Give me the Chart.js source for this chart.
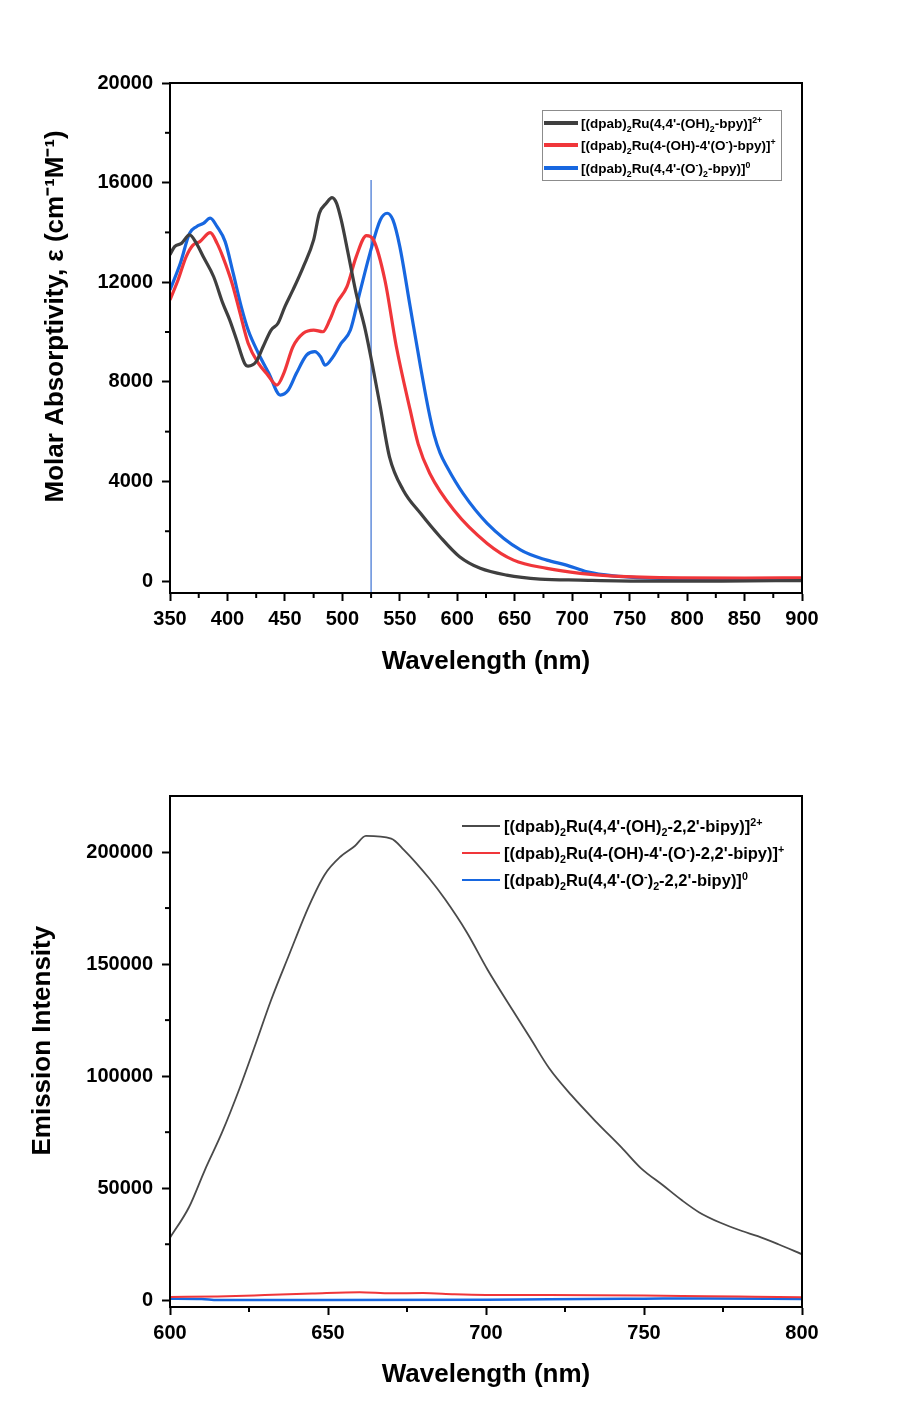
<!DOCTYPE html>
<html lang="en">
<head>
<meta charset="UTF-8">
<title>Absorption and emission spectra</title>
<script src="https://cdn.jsdelivr.net/npm/chart.js"></script>
<style>
  body { margin: 0; background: #fff; }
  .wrap { position: relative; width: 917px; height: 1418px; overflow: hidden; }
  canvas { position: absolute; left: 0; }
  #absChart { top: 0; }
  #emChart { top: 710px; }
  .legend { position: absolute; font-family: "Liberation Sans", Arial, sans-serif; font-weight: bold; color: #000; }
  .legend .row { position: absolute; left: 0; height: 20px; display: flex; align-items: center; white-space: nowrap; }
  .legend sub, .legend sup { font-size: 65%; line-height: 0; }
  #absLegend { left: 542px; top: 110px; width: 238px; height: 69px; border: 1px solid #8c8c8c; }
  #emLegend { left: 462px; top: 812px; width: 340px; height: 80px; }
</style>
</head>
<body>
<div class="wrap">
  <canvas id="absChart" width="917" height="700"></canvas>
  <canvas id="emChart" width="917" height="708"></canvas>
  <div id="absLegend" class="legend"></div>
  <div id="emLegend" class="legend"></div>
</div>

<script>
// --- absorption spectra (nm, M-1 cm-1) ---
const absWlBlack = [350, 354, 360, 367, 373, 379, 388, 396, 402, 408, 415, 418, 425, 431, 438, 444, 450, 457, 466, 475, 480, 486, 491, 495, 499, 505, 512, 520, 527, 533, 541, 553, 568, 585, 602, 620, 643, 672, 707, 765, 830, 900];
const absBlack   = [13100, 13430, 13560, 13900, 13560, 13020, 12220, 11150, 10480, 9680, 8740, 8630, 8810, 9410, 10080, 10350, 11020, 11690, 12620, 13700, 14770, 15170, 15400, 15170, 14500, 13160, 11550, 10080, 8470, 7000, 4990, 3650, 2720, 1780, 976, 510, 240, 80, 40, 0, 0, 20];

const absWlRed = [350, 357, 364, 370, 376, 385, 391, 396, 404, 411, 418, 427, 434, 443, 449, 457, 466, 475, 483, 489, 495, 504, 512, 521, 527, 537, 547, 559, 566, 576, 597, 626, 649, 678, 707, 736, 794, 850, 900];
const absRed   = [11290, 12090, 13020, 13490, 13630, 13990, 13560, 13020, 11960, 10750, 9550, 8740, 8340, 7870, 8340, 9410, 9950, 10080, 10010, 10480, 11150, 11820, 13020, 13870, 13700, 12090, 9410, 6870, 5500, 4330, 2850, 1510, 840, 510, 310, 200, 130, 120, 130];

const absWlBlue = [350, 359, 367, 373, 379, 385, 391, 398, 405, 412, 418, 427, 436, 446, 453, 460, 469, 476, 481, 485, 492, 499, 507, 515, 524, 533, 539, 544, 550, 559, 568, 575, 580, 585, 591, 605, 626, 655, 678, 695, 713, 736, 794, 850, 900];
const absBlue   = [11690, 12760, 13960, 14230, 14360, 14570, 14230, 13630, 12360, 11020, 10080, 9140, 8340, 7470, 7670, 8340, 9080, 9210, 9010, 8670, 9010, 9550, 10080, 11550, 13160, 14500, 14770, 14500, 13430, 11020, 8610, 6870, 5850, 5150, 4590, 3520, 2320, 1250, 840, 640, 370, 210, 80, 40, 60];

// vertical marker line at 525 nm
const markerWl  = [525, 525];
const markerEps = [16100, -480];

const absTicksY = [0, 4000, 8000, 12000, 16000, 20000];

const absLabels = [
  "[(dpab)<sub>2</sub>Ru(4,4'-(OH)<sub>2</sub>-bpy)]<sup>2+</sup>",
  "[(dpab)<sub>2</sub>Ru(4-(OH)-4'(O<sup>-</sup>)-bpy)]<sup>+</sup>",
  "[(dpab)<sub>2</sub>Ru(4,4'-(O<sup>-</sup>)<sub>2</sub>-bpy)]<sup>0</sup>"
];

// --- emission spectra ---
const emWlBlack = [600, 606, 611, 616.5, 622, 627, 632, 637.5, 644, 649, 654, 658.5, 662, 670, 674, 682, 687, 694, 700.5, 708.5, 714, 720, 727, 735, 743, 749, 756, 762, 767.5, 774, 781, 786, 792.5, 800];
const emBlack   = [27900, 41500, 58000, 75000, 94500, 114000, 134000, 153500, 176000, 190000, 198000, 202700, 207200, 206000, 201000, 188300, 179000, 164000, 147500, 129300, 117000, 103500, 91500, 79400, 68000, 59000, 51300, 44600, 39200, 34700, 30900, 28600, 25000, 20500];

const emWlRed = [600, 615, 630, 645, 660, 670, 680, 690, 700, 720, 750, 770, 785, 800];
const emRed   = [1500, 1700, 2300, 3000, 3600, 3100, 3200, 2700, 2400, 2300, 2100, 1800, 1600, 1400];

const emWlBlue = [600, 610, 615, 650, 700, 720, 750, 770, 800];
const emBlue   = [700, 600, 100, 100, 200, 500, 700, 800, 600];

const emTicksY = [0, 50000, 100000, 150000, 200000];

const emLabels = [
  "[(dpab)<sub>2</sub>Ru(4,4'-(OH)<sub>2</sub>-2,2'-bipy)]<sup>2+</sup>",
  "[(dpab)<sub>2</sub>Ru(4-(OH)-4'-(O<sup>-</sup>)-2,2'-bipy)]<sup>+</sup>",
  "[(dpab)<sub>2</sub>Ru(4,4'-(O<sup>-</sup>)<sub>2</sub>-2,2'-bipy)]<sup>0</sup>"
];

const seriesColors = ['#3f3f3f', '#f0363a', '#1767e0'];

const FONT = '"Liberation Sans", Arial, sans-serif';

function pts(xs, ys) {
  return xs.map((x, i) => ({ x: x, y: ys[i] }));
}
function plain(html) {
  return html.replace(/<[^>]+>/g, '');
}

// black frame round the plot area
const frame = {
  id: 'frame',
  afterDatasetsDraw(chart) {
    const a = chart.chartArea, ctx = chart.ctx;
    ctx.save();
    ctx.strokeStyle = '#000';
    ctx.lineWidth = 2;
    ctx.strokeRect(a.left, a.top, a.right - a.left, a.bottom - a.top);
    ctx.restore();
  }
};

// short minor ticks between the labelled ones
const minorTicks = {
  id: 'minorTicks',
  afterDraw(chart, args, opts) {
    const ctx = chart.ctx, a = chart.chartArea;
    const xs = chart.scales.x, ys = chart.scales.y;
    ctx.save();
    ctx.strokeStyle = '#000';
    ctx.lineWidth = 2;
    const xMajor = xs.options.ticks.stepSize, yMajor = ys.options.ticks.stepSize;
    for (let v = Math.ceil(xs.min / opts.x) * opts.x; v < xs.max; v += opts.x) {
      if (Math.abs(v / xMajor - Math.round(v / xMajor)) < 1e-6) continue;
      const p = xs.getPixelForValue(v);
      ctx.beginPath(); ctx.moveTo(p, a.bottom); ctx.lineTo(p, a.bottom + 5); ctx.stroke();
    }
    for (let v = Math.ceil(ys.min / opts.y) * opts.y; v < ys.max; v += opts.y) {
      if (Math.abs(v / yMajor - Math.round(v / yMajor)) < 1e-6) continue;
      const p = ys.getPixelForValue(v);
      ctx.beginPath(); ctx.moveTo(a.left, p); ctx.lineTo(a.left - 5, p); ctx.stroke();
    }
    ctx.restore();
  }
};

function axis(o) {
  const cfg = {
    type: 'linear',
    min: o.min,
    max: o.max,
    afterFit: o.fit,
    ticks: {
      stepSize: o.step,
      padding: o.pad,
      color: '#000',
      callback: v => String(v),
      font: { family: FONT, size: 20, weight: 'bold' }
    },
    grid: { drawOnChartArea: false, drawTicks: true, tickLength: 8, tickColor: '#000', tickWidth: 2 },
    border: { display: true, color: '#000', width: 2 },
    title: {
      display: true,
      text: o.title,
      color: '#000',
      padding: o.titlePad,
      font: { family: FONT, size: 26, weight: 'bold' }
    }
  };
  if (o.tickList) {
    cfg.afterBuildTicks = s => { s.ticks = o.tickList.map(v => ({ value: v })); };
  }
  return cfg;
}

// absorption chart
new Chart(document.getElementById('absChart'), {
  type: 'line',
  data: {
    datasets: [
      { label: plain(absLabels[0]), data: pts(absWlBlack, absBlack), borderColor: seriesColors[0], borderWidth: 3.2 },
      { label: plain(absLabels[1]), data: pts(absWlRed, absRed), borderColor: seriesColors[1], borderWidth: 3.2 },
      { label: plain(absLabels[2]), data: pts(absWlBlue, absBlue), borderColor: seriesColors[2], borderWidth: 3.2 },
      { label: '525 nm', data: pts(markerWl, markerEps), borderColor: '#4a7bd6', borderWidth: 1.3, tension: 0 }
    ]
  },
  options: {
    responsive: false,
    animation: false,
    layout: { padding: { top: 83, right: 115, left: 0, bottom: 0 } },
    elements: { point: { radius: 0 }, line: { cubicInterpolationMode: 'monotone' } },
    plugins: { legend: { display: false }, tooltip: { enabled: false }, minorTicks: { x: 25, y: 2000 } },
    scales: {
      x: axis({ min: 350, max: 900, step: 50, pad: 6, title: 'Wavelength (nm)', titlePad: { top: 0, bottom: 23 },
                fit: s => { s.height = 107; } }),
      y: axis({ min: -480, max: 20000, step: 4000, pad: 9, tickList: absTicksY,
                title: '      Molar Absorptivity, \u03b5 (cm\u207b\u00b9M\u207b\u00b9)', titlePad: { top: 40, bottom: 0 },
                fit: s => { s.width = 170; } })
    }
  },
  plugins: [frame, minorTicks]
});

// emission chart
new Chart(document.getElementById('emChart'), {
  type: 'line',
  data: {
    datasets: [
      { label: plain(emLabels[0]), data: pts(emWlBlack, emBlack), borderColor: '#4a4a4a', borderWidth: 1.8 },
      { label: plain(emLabels[1]), data: pts(emWlRed, emRed), borderColor: seriesColors[1], borderWidth: 2 },
      { label: plain(emLabels[2]), data: pts(emWlBlue, emBlue), borderColor: seriesColors[2], borderWidth: 2.5 }
    ]
  },
  options: {
    responsive: false,
    animation: false,
    layout: { padding: { top: 86, right: 115, left: 0, bottom: 0 } },
    elements: { point: { radius: 0 }, line: { cubicInterpolationMode: 'monotone' } },
    plugins: { legend: { display: false }, tooltip: { enabled: false }, minorTicks: { x: 25, y: 25000 } },
    scales: {
      x: axis({ min: 600, max: 800, step: 50, pad: 6, title: 'Wavelength (nm)', titlePad: { top: 0, bottom: 28 },
                fit: s => { s.height = 111; } }),
      y: axis({ min: -3000, max: 225000, step: 50000, pad: 9, tickList: emTicksY,
                title: '   Emission Intensity', titlePad: { top: 27, bottom: 0 },
                fit: s => { s.width = 170; } })
    }
  },
  plugins: [frame, minorTicks]
});

// legends as html so the sub/superscripts look right
function buildLegend(el, labels, colors, o) {
  labels.forEach((lbl, i) => {
    const row = document.createElement('div');
    row.className = 'row';
    row.style.top = (o.rows[i] - 10) + 'px';
    row.style.left = o.left + 'px';
    row.style.fontSize = o.size + 'px';
    const sw = document.createElement('span');
    sw.style.display = 'inline-block';
    sw.style.width = o.swatch + 'px';
    sw.style.height = o.thick + 'px';
    sw.style.background = colors[i];
    sw.style.marginRight = o.gap + 'px';
    const tx = document.createElement('span');
    tx.innerHTML = lbl;
    row.appendChild(sw);
    row.appendChild(tx);
    el.appendChild(row);
  });
}

buildLegend(document.getElementById('absLegend'), absLabels, seriesColors,
  { rows: [12, 34, 57], left: 1, size: 13.5, swatch: 34, thick: 4, gap: 3 });
buildLegend(document.getElementById('emLegend'), emLabels, ['#4a4a4a', seriesColors[1], seriesColors[2]],
  { rows: [14, 41, 68], left: 0, size: 16.5, swatch: 38, thick: 2, gap: 4 });
</script>
</body>
</html>
